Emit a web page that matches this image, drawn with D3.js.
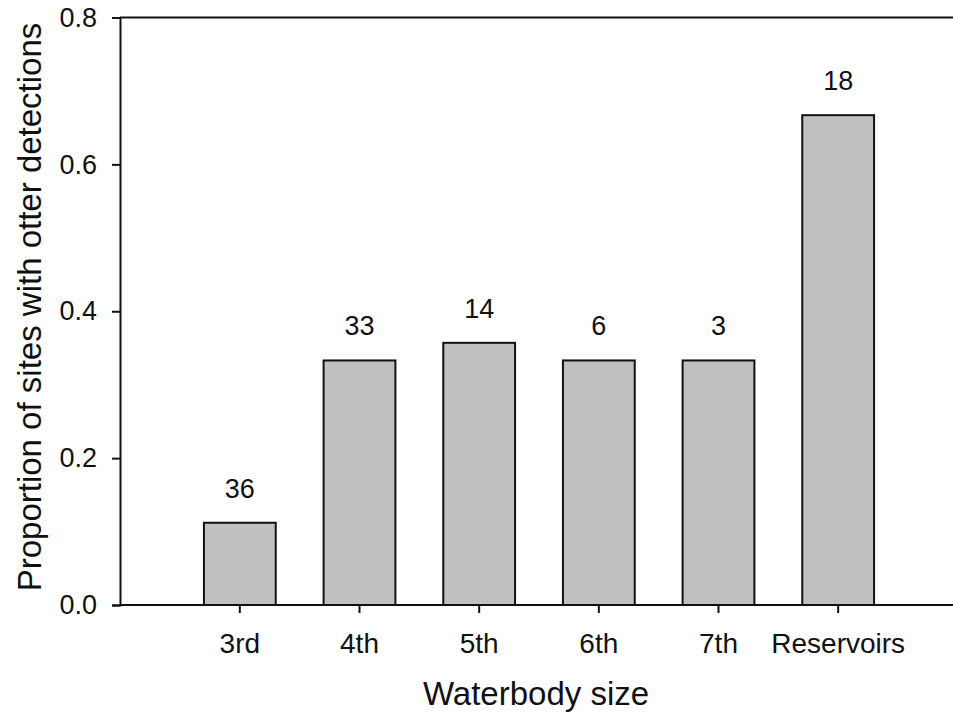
<!DOCTYPE html>
<html>
<head>
<meta charset="utf-8">
<script src="https://cdn.jsdelivr.net/npm/d3@7"></script>
<style>
  html, body { margin: 0; padding: 0; background: #fff; }
  svg { display: block; }
  text { font-family: "Liberation Sans", Arial, sans-serif; fill: #111; }
</style>
</head>
<body>
<svg id="chart" width="953" height="714"></svg>
<script>
const categories = ["3rd", "4th", "5th", "6th", "7th", "Reservoirs"];
const proportions = [0.112, 0.333, 0.357, 0.333, 0.333, 0.667];
const sampleSizes = [36, 33, 14, 6, 3, 18];
const yTicks = [0.0, 0.2, 0.4, 0.6, 0.8];
const xTitle = "Waterbody size";
const yTitle = "Proportion of sites with otter detections";

(function () {
const svg = d3.select("#chart");
const plotLeft = 120, plotRight = 953, plotTop = 17.5, plotBottom = 605;
const FONT = "Liberation Sans, Arial, sans-serif";

const x = d3.scaleBand()
  .domain(categories)
  .range([180, 898])
  .paddingInner(0.4)
  .paddingOuter(0.2);

const y = d3.scaleLinear().domain([0, 0.8]).range([plotBottom, plotTop]);

// bars
svg.append("g").selectAll("rect")
  .data(categories)
  .join("rect")
  .attr("x", d => x(d))
  .attr("y", (d, i) => y(proportions[i]))
  .attr("width", x.bandwidth())
  .attr("height", (d, i) => y(0) - y(proportions[i]))
  .attr("fill", "#c0c0c0")
  .attr("stroke", "#111")
  .attr("stroke-width", 2);

// bar labels
svg.append("g").selectAll("text")
  .data(categories)
  .join("text")
  .attr("x", d => x(d) + x.bandwidth() / 2)
  .attr("y", (d, i) => y(proportions[i]) - 25)
  .attr("text-anchor", "middle")
  .attr("font-size", 27)
  .text((d, i) => sampleSizes[i]);

// top frame line
svg.append("line")
  .attr("x1", plotLeft).attr("x2", plotRight)
  .attr("y1", y(0.8)).attr("y2", y(0.8))
  .attr("stroke", "#111").attr("stroke-width", 2);

// y axis
const yAxis = d3.axisLeft(y).tickValues(yTicks).tickFormat(d3.format(".1f")).tickSize(8).tickPadding(15);
const gy = svg.append("g").attr("transform", `translate(${plotLeft},0)`).call(yAxis);
gy.select(".domain").attr("stroke", "#111").attr("stroke-width", 2);
gy.selectAll(".tick line").attr("stroke", "#111").attr("stroke-width", 2);
gy.selectAll(".tick text").attr("font-size", 27).attr("font-family", FONT).attr("fill", "#111");

// x axis
const xAxis = d3.axisBottom(x).tickSize(8).tickPadding(20).tickSizeOuter(0);
const gx = svg.append("g").attr("transform", `translate(0,${plotBottom})`).call(xAxis);
gx.select(".domain").attr("d", `M${plotLeft},0H${plotRight}`).attr("stroke", "#111").attr("stroke-width", 2);
gx.selectAll(".tick line").attr("stroke", "#111").attr("stroke-width", 2);
gx.selectAll(".tick text").attr("font-size", 28).attr("font-family", FONT).attr("fill", "#111");

// titles
svg.append("text")
  .attr("x", 536).attr("y", 705)
  .attr("text-anchor", "middle")
  .attr("font-size", 33)
  .text(xTitle);

svg.append("text")
  .attr("transform", "translate(41,307) rotate(-90)")
  .attr("text-anchor", "middle")
  .attr("font-size", 33)
  .text(yTitle);
})();
</script>
</body>
</html>
